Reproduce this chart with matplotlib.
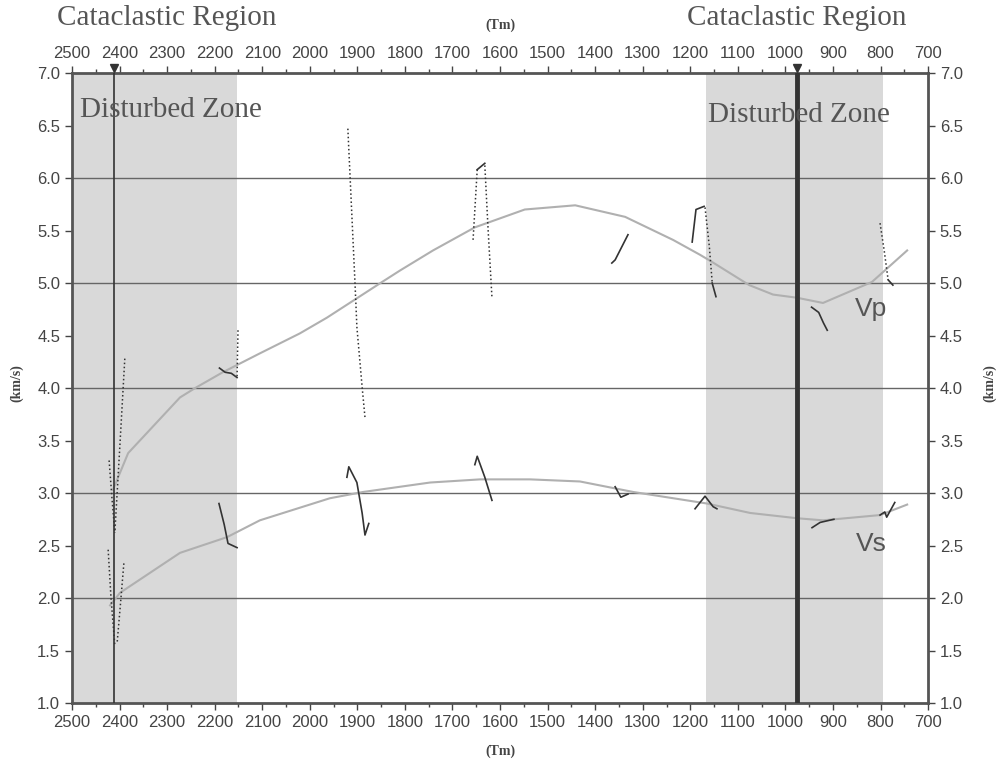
import matplotlib.pyplot as plt
from matplotlib.ticker import MultipleLocator

# Smooth velocity trends (x in Tm, velocity in km/s)
vp_x = [2414, 2382, 2273, 2241, 2183, 2105, 2021, 1964, 1848, 1810, 1741, 1653,
        1548, 1442, 1337, 1236, 1180, 1154, 1076, 1026, 976, 921, 818, 744]
vp_y = [3.03, 3.38, 3.91, 4.00, 4.15, 4.33, 4.52, 4.67, 5.01, 5.12, 5.31, 5.53,
        5.70, 5.74, 5.63, 5.41, 5.27, 5.20, 4.98, 4.89, 4.86, 4.81, 5.01, 5.31]
vs_x = [2420, 2399, 2273, 2174, 2105, 1958, 1888, 1747, 1642, 1537, 1432,
        1320, 1165, 1074, 976, 921, 801, 744]
vs_y = [1.93, 2.05, 2.43, 2.58, 2.74, 2.95, 3.01, 3.10, 3.13, 3.13, 3.11,
        3.01, 2.90, 2.81, 2.76, 2.74, 2.79, 2.89]

# Short measured pieces (solid)
solid_pieces = [
    ([2190, 2178, 2165, 2153], [4.19, 4.15, 4.14, 4.10]),
    ([2191, 2180, 2172, 2153], [2.90, 2.70, 2.52, 2.48]),
    ([1922, 1918, 1901, 1890, 1884, 1876], [3.15, 3.25, 3.10, 2.81, 2.60, 2.71]),
    ([1653, 1648, 1632, 1617], [3.27, 3.35, 3.15, 2.93]),
    ([1648, 1632], [6.08, 6.14]),
    ([1365, 1358, 1331], [5.19, 5.22, 5.46]),
    ([1358, 1346, 1331], [3.06, 2.96, 2.99]),
    ([1196, 1188, 1171], [5.39, 5.70, 5.73]),
    ([1154, 1146], [5.00, 4.87]),
    ([1190, 1169, 1152, 1144], [2.85, 2.97, 2.87, 2.85]),
    ([945, 930, 920, 912], [4.77, 4.72, 4.62, 4.55]),
    ([944, 927, 898], [2.67, 2.72, 2.75]),
    ([784, 774], [5.03, 4.98]),
    ([801, 791, 787, 770], [2.79, 2.82, 2.77, 2.91]),
]

# Short measured pieces (dotted)
dotted_pieces = [
    ([2151, 2153], [4.55, 4.10]),
    ([2389, 2400, 2410], [4.28, 3.40, 2.62]),
    ([2422, 2416, 2410], [3.31, 2.95, 2.63]),
    ([2424, 2418, 2410], [2.46, 2.00, 1.55]),
    ([2391, 2398, 2405], [2.33, 1.95, 1.58]),
    ([1920, 1905, 1901, 1890, 1884], [6.47, 5.00, 4.58, 4.01, 3.72]),
    ([1648, 1657], [6.08, 5.39]),
    ([1632, 1625, 1617], [6.12, 5.50, 4.86]),
    ([1169, 1160, 1154], [5.72, 5.35, 5.01]),
    ([801, 792, 784], [5.57, 5.30, 5.03]),
]

zones = [(2500, 2153), (1166, 795)]
fault_x = [2412, 976]
fault_w = [1.2, 3.5]
region_label_x = [2300, 976]
x_ticks = list(range(2500, 600, -100))

plt.rcParams['font.family'] = ['Liberation Sans', 'DejaVu Sans']
serif = ['Liberation Serif', 'DejaVu Serif']
dark = '#444444'

fig = plt.figure(figsize=(10.03, 7.66), dpi=100)
ax = fig.add_axes([0.0718, 0.0822, 0.8535, 0.8225])

for x0, x1 in zones:
    ax.axvspan(x0, x1, color='#d9d9d9', lw=0, zorder=0)
for y in [2, 3, 4, 5, 6]:
    ax.axhline(y, color='#666666', lw=1.0, zorder=1)

ax.plot(vp_x, vp_y, color='#b0b0b0', lw=1.5, zorder=2)
ax.plot(vs_x, vs_y, color='#b0b0b0', lw=1.5, zorder=2)
for xs, ys in solid_pieces:
    ax.plot(xs, ys, color='#333333', lw=1.2, zorder=3)
for xs, ys in dotted_pieces:
    ax.plot(xs, ys, color='#333333', lw=1.1, ls=':', zorder=3)

for fx, w in zip(fault_x, fault_w):
    ax.axvline(fx, color='#333333', lw=w, zorder=4)
    ax.plot(fx, 7.05, marker='v', color='#333333', ms=5.5, clip_on=False, zorder=5)

ax.set_xlim(2500, 700)
ax.set_ylim(1.0, 7.0)
ax.set_xticks(x_ticks)
ax.xaxis.set_minor_locator(MultipleLocator(50))
ax.yaxis.set_major_locator(MultipleLocator(0.5))
ax.yaxis.set_major_formatter(plt.FormatStrFormatter('%.1f'))
ax.tick_params(which='both', top=True, right=True, labeltop=True, labelright=True,
               direction='out', colors=dark, labelsize=12, labelcolor=dark)
ax.tick_params(which='major', length=5, width=1)
ax.tick_params(which='minor', length=3, width=1)
for s in ax.spines.values():
    s.set_color('#555555')
    s.set_linewidth(2)

fig.text(0.0718 + 0.8535 / 2, 0.015, '(Tm)', ha='center', fontsize=10,
         fontweight='bold', family=serif, color=dark)
fig.text(0.0718 + 0.8535 / 2, 0.962, '(Tm)', ha='center', fontsize=10,
         fontweight='bold', family=serif, color=dark)
fig.text(0.017, 0.5, '(km/s)', rotation=90, va='center', ha='center', fontsize=10,
         fontweight='bold', family=serif, color=dark)
fig.text(0.987, 0.5, '(km/s)', rotation=90, va='center', ha='center', fontsize=10,
         fontweight='bold', family=serif, color=dark)

for lx in region_label_x:
    ax.text(lx, 1.087, 'Cataclastic Region', transform=ax.get_xaxis_transform(),
            ha='center', va='center', fontsize=21, family=serif, color='#555555')
ax.text(2484, 6.65, 'Disturbed Zone', fontsize=21, family=serif, color='#555555',
        va='center', zorder=6)
ax.text(1163, 6.60, 'Disturbed Zone', fontsize=21, family=serif, color='#555555',
        va='center', zorder=6)
ax.text(854, 4.75, 'Vp', fontsize=19, color='#555555', va='center')
ax.text(852, 2.51, 'Vs', fontsize=19, color='#555555', va='center')

fig.savefig('out.png', dpi=100)
